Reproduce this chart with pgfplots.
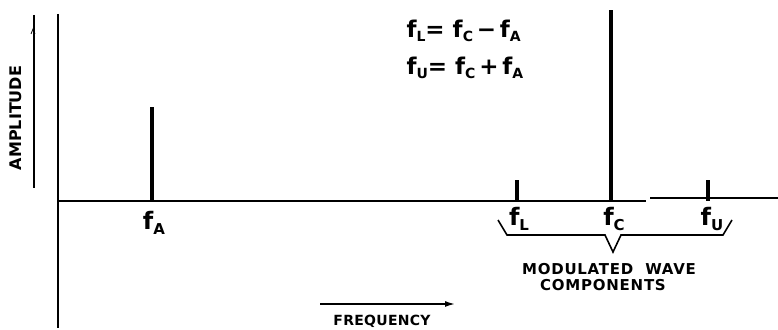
\documentclass[border=0pt]{standalone}
\usepackage{fontspec}
\setmainfont{DejaVu Sans}
\usepackage{pgfplots}
\usetikzlibrary{arrows.meta}
\pgfplotsset{compat=1.18}
\newcommand\fs[2]{f\raisebox{-0.35ex}{\fontsize{#2}{#2}\selectfont #1}}
\newcommand\caps[2]{{\addfontfeature{LetterSpace=#1}#2}}
\begin{document}
\begin{tikzpicture}
\begin{axis}[
  width=778pt, height=329pt, scale only axis,
  xmin=0, xmax=778, ymin=-128, ymax=201,
  hide axis, clip=false,
]
% baseline and axes
\addplot[black, line width=2pt] coordinates {(58,0) (646,0)};
\addplot[black, line width=2pt] coordinates {(650,3) (778,3)};
\addplot[black, line width=1.6pt] coordinates {(58,187) (58,-127)};
\addplot[black, line width=1.6pt] coordinates {(34,186) (34,13)};
\addplot[black, line width=0.8pt] coordinates {(31,167) (33,172) (35,167)};
% spectral lines
\addplot[ycomb, black, line width=4pt] coordinates {(152,94) (517,21) (611,191) (708,21)};
% brace
\addplot[black, line width=1.6pt] coordinates {(498,-19) (507,-34) (605,-34) (613,-51) (621,-34) (723,-34) (732,-19)};
% frequency arrow
\addplot[black, line width=1.5pt, -{Latex[length=10pt,width=6pt]}] coordinates {(320,-103) (455,-103)};
% labels
\node[font=\bfseries\fontsize{24}{24}\selectfont] at (axis cs:154,-22) {\fs{A}{15}};
\node[font=\bfseries\fontsize{24}{24}\selectfont] at (axis cs:519,-18) {\fs{L}{15}};
\node[font=\bfseries\fontsize{24}{24}\selectfont] at (axis cs:614,-18) {\fs{C}{15}};
\node[font=\bfseries\fontsize{24}{24}\selectfont] at (axis cs:712,-18) {\fs{U}{15}};
\node[font=\bfseries\fontsize{23}{23}\selectfont, anchor=west] at (axis cs:403,170) {\fs{L}{14}= \fs{C}{14}\,\symbol{"2212}\,\fs{A}{14}};
\node[font=\bfseries\fontsize{23}{23}\selectfont, anchor=west] at (axis cs:403,133) {\fs{U}{14}= \fs{C}{14}\,+\,\fs{A}{14}};
\node[font=\bfseries\fontsize{15}{15}\selectfont] at (axis cs:609,-68) {\caps{5}{MODULATED\ \ WAVE}};
\node[font=\bfseries\fontsize{15}{15}\selectfont] at (axis cs:603,-84) {\caps{5}{COMPONENTS}};
\node[font=\bfseries\fontsize{14}{14}\selectfont] at (axis cs:382,-120) {\caps{2}{FREQUENCY}};
\node[font=\bfseries\fontsize{16}{16}\selectfont, rotate=90] at (axis cs:16,83) {\caps{0}{AMPLITUDE}};
\end{axis}
\pgfresetboundingbox
\useasboundingbox (current axis.south west) rectangle (current axis.north east);
\end{tikzpicture}
\end{document}
